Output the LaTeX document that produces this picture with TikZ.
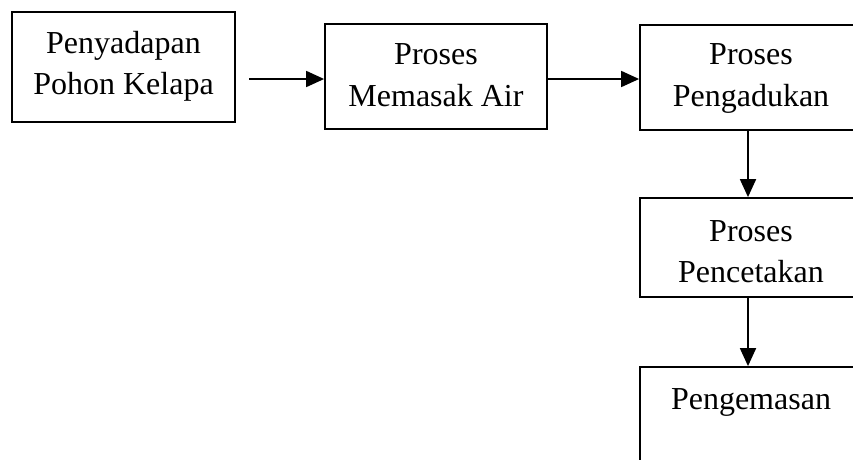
\documentclass[tikz,border=0pt]{standalone}
\usepackage{fontspec}
\setmainfont{Liberation Serif}
\usetikzlibrary{arrows.meta}
\tikzset{
  box/.style={draw=black, line width=1.8pt, rectangle, inner sep=0pt},
  lbl/.style={anchor=base, inner sep=0pt, font=\fontsize{32}{41}\selectfont},
  arr/.style={line width=1.8pt, -{Triangle[length=18pt,width=16pt]}}
}
\begin{document}
\begin{tikzpicture}[x=1pt,y=-1pt]
\useasboundingbox (0,0) rectangle (853,459);
\clip (0,0) rectangle (853,459);
% boxes
\node[box, minimum width=223pt, minimum height=110pt] (b1) at (123.5,67) {};
\node[box, minimum width=222pt, minimum height=105pt] (b2) at (436,76.5) {};
\node[box, minimum width=216pt, minimum height=105pt] (b3) at (748,77.5) {};
\node[box, minimum width=216pt, minimum height=99pt] (b4) at (748,247.5) {};
\node[box, minimum width=216pt, minimum height=110pt] (b5) at (748,422) {};
% labels
\node[lbl] (t1a) at (123.5,53) {Penyadapan};
\node[lbl] (t1b) at (123.5,94) {Pohon Kelapa};
\node[lbl] (t2a) at (436,64) {Proses};
\node[lbl] (t2b) at (436,106) {Memasak Air};
\node[lbl] (t3a) at (751,64) {Proses};
\node[lbl] (t3b) at (751,106) {Pengadukan};
\node[lbl] (t4a) at (751,241) {Proses};
\node[lbl] (t4b) at (751,282) {Pencetakan};
\node[lbl] (t5a) at (751,409) {Pengemasan};
% connectors
\coordinate (s1) at (249,79);
\coordinate (s2) at (547,79);
\draw[arr] (s1) -- (s1 -| b2.west);
\draw[arr] (s2) -- (s2 -| b3.west);
\draw[arr] (b3.south) -- (b4.north);
\draw[arr] (b4.south) -- (b5.north);
\end{tikzpicture}
\end{document}
